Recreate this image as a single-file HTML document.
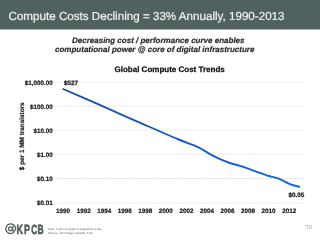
<!DOCTYPE html>
<html><head><meta charset="utf-8">
<style>
html,body{margin:0;padding:0;width:320px;height:240px;overflow:hidden;background:#fff;}
svg{position:absolute;left:0;top:0;will-change:transform;}
text{font-family:"Liberation Sans",sans-serif;text-rendering:geometricPrecision;}
.b{font-weight:bold;}
</style></head><body>
<svg width="320" height="240" viewBox="0 0 320 240">
<rect x="0" y="0" width="320" height="29.5" fill="#506260"/>
<text x="8.5" y="19.6" font-size="11.63" fill="#f2f2f2" stroke="#f2f2f2" stroke-width="0.2">Compute Costs Declining = 33% Annually, 1990-2013</text>
<g class="b" font-style="italic" font-size="8" fill="#2a2a2a" stroke="#2a2a2a" stroke-width="0.2">
<text x="72" y="42.6">Decreasing cost / performance curve enables</text>
<text x="55" y="51.8">computational power @ core of digital infrastructure</text>
</g>
<text class="b" x="114.5" y="71.9" font-size="8" fill="#111" stroke="#111" stroke-width="0.25">Global Compute Cost Trends</text>
<g stroke="#e2e2e2" stroke-width="1" stroke-dasharray="2,1">
<line x1="57.5" y1="82" x2="304" y2="82"/>
<line x1="57.5" y1="106" x2="304" y2="106"/>
<line x1="57.5" y1="130" x2="304" y2="130"/>
<line x1="57.5" y1="154.2" x2="304" y2="154.2"/>
<line x1="57.5" y1="178.5" x2="304" y2="178.5"/>
<line x1="57.5" y1="203" x2="304" y2="203"/>
</g>
<defs><linearGradient id="lg" gradientUnits="userSpaceOnUse" x1="62" y1="88" x2="300" y2="187">
<stop offset="0" stop-color="#1b4ea6"/><stop offset="0.45" stop-color="#0f5ac8"/><stop offset="1" stop-color="#1668e6"/></linearGradient></defs>
<path fill="none" stroke="url(#lg)" stroke-width="1.9" stroke-linejoin="round" d="M62.5,88.75 C68.42,91.33 85.42,98.69 98,104.2 C110.58,109.71 124.67,115.96 138,121.8 C151.33,127.64 168.00,135.03 178,139.25 C188.00,143.47 192.67,144.62 198,147.1 C203.33,149.57 206.33,152.10 210,154.1 C213.67,156.10 216.67,157.62 220,159.1 C223.33,160.58 226.67,161.88 230,163 C233.33,164.12 236.67,164.73 240,165.8 C243.33,166.87 246.67,168.23 250,169.4 C253.33,170.57 256.83,171.70 260,172.8 C263.17,173.90 266.00,175.08 269,176 C272.00,176.92 274.50,176.93 278,178.3 C281.50,179.67 286.33,182.75 290,184.2 C293.67,185.65 298.33,186.53 300,187"/>
<g class="b" font-size="6.3" fill="#1a1a1a" stroke="#1a1a1a" stroke-width="0.2" text-anchor="end">
<text x="52.8" y="84.75">$1,000.00</text>
<text x="52.8" y="109.1">$100.00</text>
<text x="52.8" y="132.9">$10.00</text>
<text x="52.8" y="156.9">$1.00</text>
<text x="52.8" y="181.25">$0.10</text>
<text x="52.8" y="205.25">$0.01</text>
</g>
<g class="b" font-size="6.3" fill="#1a1a1a" stroke="#1a1a1a" stroke-width="0.2" text-anchor="middle">
<text x="63.1" y="213.1">1990</text>
<text x="83.65" y="213.1">1992</text>
<text x="104.2" y="213.1">1994</text>
<text x="124.75" y="213.1">1996</text>
<text x="145.3" y="213.1">1998</text>
<text x="165.85" y="213.1">2000</text>
<text x="186.4" y="213.1">2002</text>
<text x="206.95" y="213.1">2004</text>
<text x="227.5" y="213.1">2006</text>
<text x="248.05" y="213.1">2008</text>
<text x="268.6" y="213.1">2010</text>
<text x="289.15" y="213.1">2012</text>
</g>
<text class="b" x="64" y="85.2" font-size="6.3" fill="#1a1a1a" stroke="#1a1a1a" stroke-width="0.25">$527</text>
<text class="b" x="288.5" y="197.25" font-size="6.3" fill="#1a1a1a" stroke="#1a1a1a" stroke-width="0.25">$0.05</text>
<text class="b" transform="translate(24.2,136.25) rotate(-90)" text-anchor="middle" font-size="6.4" fill="#1a1a1a" stroke="#1a1a1a" stroke-width="0.2">$ per 1 MM transistors</text>
<g class="b" fill="#4f5d5b" stroke="#4f5d5b" stroke-width="0.6" font-size="13.3">
<g fill="none" stroke-width="1.25"><path d="M14.5,231.7 A4.85,4.85 0 1 1 15.5,228.6 L15.5,229.3 Q15.3,231.1 13.7,231.1 Q12.4,231.1 12.6,229.3 L13,226.2"/><circle cx="10.5" cy="228.8" r="1.95" stroke-width="1.2"/></g>
<text transform="translate(16.4,233.5) scale(0.68,1)">K</text>
<text transform="translate(23.94,233.5) scale(0.68,1)">P</text>
<text transform="translate(31.2,233.5) scale(0.62,1)">C</text>
<text transform="translate(37.6,233.5) scale(0.64,1)">B</text>
</g>
<g font-size="2.95" fill="#666">
<text x="48" y="229.5">Note: Y-axis on graph is logarithmic scale.</text>
<text x="48" y="233.5">Source: John Hagel, Deloitte, 5/14.</text>
</g>
<text x="305.5" y="229.3" font-size="5.8" fill="#999">70</text>
</svg>
</body></html>
